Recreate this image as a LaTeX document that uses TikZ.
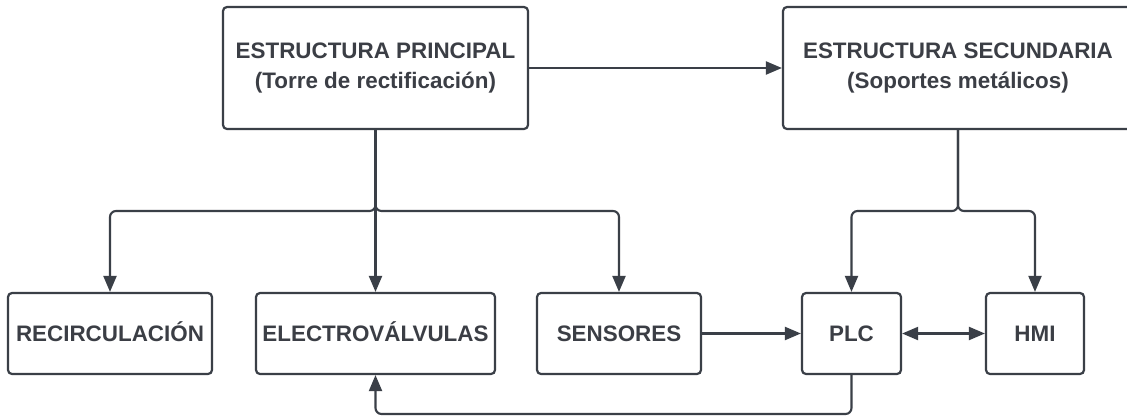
\documentclass[tikz,border=0pt]{standalone}
\usepackage{fontspec}
\setmainfont{Liberation Sans}
\usetikzlibrary{arrows.meta}
\definecolor{ink}{HTML}{3A3F47}
\definecolor{txt}{HTML}{3B3E45}
\begin{document}
\begin{tikzpicture}[x=1pt,y=-1pt,
  box/.style={draw=ink, line width=2.2pt, rounded corners=4pt, fill=white, text=txt,
    font=\fontsize{22.4}{30}\selectfont\bfseries, align=center, inner sep=0pt},
  lowbox/.style={box, minimum height=81pt, text height=16pt, text depth=0pt},
  tip/.tip={Triangle[length=16pt,width=13pt]},
  arr/.style={draw=ink, line width=2.1pt, -{tip}, rounded corners=6pt},
  darr/.style={draw=ink, line width=2.1pt, {tip}-{tip}},
]
\useasboundingbox[fill=white] (0,0) rectangle (1127,416);
\node[box, minimum width=305pt, minimum height=122pt] (top1) at (375.5,68)
  {ESTRUCTURA PRINCIPAL\\(Torre de rectificación)};
\node[box, minimum width=350pt, minimum height=122pt] (top2) at (958,68)
  {ESTRUCTURA SECUNDARIA\\(Soportes metálicos)};
\node[lowbox, minimum width=204pt] (rec)  at (110,333.5) {RECIRCULACIÓN};
\node[lowbox, minimum width=239pt] (elec) at (375.5,333.5) {ELECTROVÁLVULAS};
\node[lowbox, minimum width=164pt] (sens) at (619,333.5) {SENSORES};
\node[lowbox, minimum width=99pt]  (plc)  at (851.5,333.5) {PLC};
\node[lowbox, minimum width=98pt]  (hmi)  at (1035,333.5) {HMI};
\coordinate (bus) at (0,211);
\coordinate (fb) at (0,414);
% top link
\draw[arr] (top1) -- (top2);
% left bus
\draw[arr] (top1.south) |- (rec.north |- bus) -- (rec.north);
\draw[arr] (top1.south) -- (elec.north);
\draw[arr] (top1.south) |- (sens.north |- bus) -- (sens.north);
% right bus
\draw[arr] (top2.south) |- (plc.north |- bus) -- (plc.north);
\draw[arr] (top2.south) |- (hmi.north |- bus) -- (hmi.north);
% bottom links
\draw[arr] (sens) -- (plc);
\draw[darr] (plc) -- (hmi);
\draw[arr] (plc.south) -- (plc.south |- fb) -| (elec.south);
\end{tikzpicture}
\end{document}
